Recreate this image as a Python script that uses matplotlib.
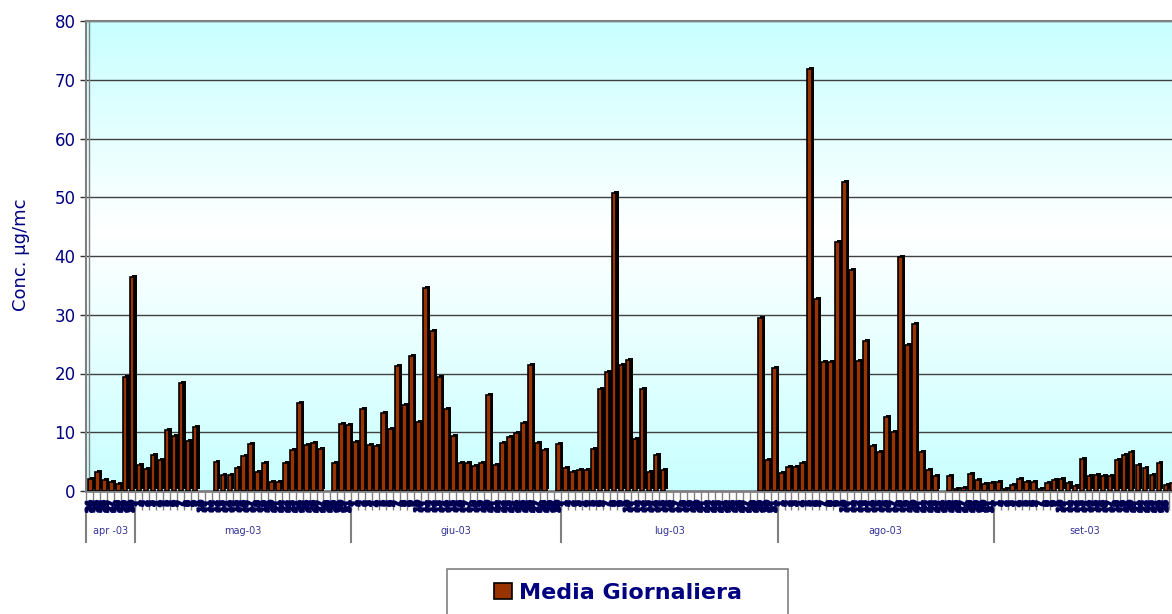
import numpy as np
import pandas as pd
import matplotlib
matplotlib.use('Agg')
import matplotlib.pyplot as plt
import matplotlib.patheffects as pe
from matplotlib.colors import LinearSegmentedColormap
from matplotlib.patches import Rectangle

nan = np.nan

# daily means (ug/mc), 24 apr 2003 -> 26 set 2003, nan = no data
apr_vals = [2.0, 3.2, 1.8, 1.5, 1.2, 19.4, 36.5]
mag_vals = [4.5, 3.7, 6.2, 5.3, 10.4, 9.4, 18.4, 8.5, 10.9, nan,
            nan, 4.9, 2.8, 2.8, 4.0, 6.0, 8.0, 3.2, 4.8, 1.5,
            1.5, 4.8, 6.9, 14.9, 7.9, 8.2, 7.2, nan, 4.8, 11.4,
            11.2]
giu_vals = [8.3, 13.9, 7.9, 7.6, 13.2, 10.5, 21.3, 14.6, 22.9, 11.8,
            34.6, 27.2, 19.4, 13.9, 9.3, 4.8, 4.8, 4.2, 4.8, 16.3,
            4.5, 8.1, 9.2, 9.8, 11.5, 21.4, 8.1, 6.9, nan, 8.0]
lug_vals = [3.9, 3.2, 3.5, 3.5, 7.1, 17.4, 20.3, 50.8, 21.5, 22.3,
            8.8, 17.3, 3.2, 6.1, 3.5, nan, nan, nan, nan, nan,
            nan, nan, nan, nan, nan, nan, nan, nan, 29.5, 5.3,
            21.0]
ago_vals = [3.1, 4.1, 4.1, 4.8, 71.8, 32.6, 21.9, 21.9, 42.4, 52.6,
            37.7, 22.1, 25.5, 7.6, 6.6, 12.6, 10.0, 39.9, 24.9, 28.5,
            6.6, 3.6, 2.6, nan, 2.5, 0.4, 0.5, 2.9, 1.8, 1.2,
            1.3]
set_vals = [1.5, 0.4, 1.1, 2.1, 1.5, 1.5, 0.3, 1.4, 1.9, 2.1,
            1.4, 0.9, 5.4, 2.5, 2.8, 2.5, 2.5, 5.2, 6.2, 6.6,
            4.5, 3.9, 2.8, 4.8, 1.1, 1.3]
month_labels = ['apr -03', 'mag-03', 'giu-03', 'lug-03', 'ago-03', 'set-03']

vals = np.array(apr_vals + mag_vals + giu_vals + lug_vals + ago_vals + set_vals)
days = pd.date_range('2003-04-24', periods=len(vals), freq='D')
x = np.arange(len(vals))
mask = ~np.isnan(vals)

W, H = 1172, 614
px_day = 6.985
navy = '#000080'
grey = '#808080'

fig = plt.figure(figsize=(W / 100, H / 100), dpi=100)
ax = fig.add_axes([86 / W, (H - 491) / H, (W - 86) / W, 470 / H])

# wall gradient cyan -> white -> cyan
cmap = LinearSegmentedColormap.from_list('wall', [(0, '#c8ffff'), (0.55, '#ffffff'), (1, '#c8ffff')])
ax.imshow(np.linspace(0, 1, 256).reshape(-1, 1), extent=(0, 1, 0, 1), transform=ax.transAxes,
          cmap=cmap, aspect='auto', origin='lower', zorder=0)

# 3d look: dark depth block behind the front face
ax.bar(x[mask] + 0.4, vals[mask], width=0.7, bottom=0.34, color='black', zorder=2)
bars = ax.bar(x[mask] + 0.1, vals[mask], width=0.68, color='#993300', edgecolor='black',
              linewidth=1.2, zorder=3, label='Media Giornaliera')

xmax = -0.5 + (W - 86) / px_day
ax.set_xlim(-0.5, xmax)
ax.set_ylim(0, 80)
ax.set_yticks(np.arange(0, 81, 10))
ax.yaxis.grid(True, color='#404040', lw=1)
ax.set_axisbelow(True)
ax.tick_params(axis='y', length=4.5, width=1, color='#333333', pad=3,
               labelsize=12, labelcolor=navy)

ax.set_xticks(x - 0.5)
ax.set_xticklabels([])
ax.tick_params(axis='x', length=14, width=1, color=grey)

for s in ['left', 'top']:
    ax.spines[s].set_color(grey)
    ax.spines[s].set_linewidth(1.5)
ax.spines['bottom'].set_color(grey)
ax.spines['bottom'].set_linewidth(2)
ax.spines['right'].set_visible(False)
ax.axvline(-0.5 + 3 / px_day, color=grey, lw=1, zorder=1)

# day numbers, squeezed together into a dark band like the original
stroke = [pe.withStroke(linewidth=1.6, foreground='#000060')]
for xi, d in zip(x, days):
    if xi + 0.5 > xmax:
        continue
    ax.annotate(str(d.day), xy=(xi, 0), xycoords=('data', 'axes fraction'),
                xytext=(0, -6.8), textcoords='offset points', rotation=90,
                ha='center', va='top', fontsize=6.2, fontweight='bold',
                color='#000040', annotation_clip=False, zorder=4,
                path_effects=stroke)

# month groups
trans = ax.get_xaxis_transform()
months = days.to_period('M')
for lab, m in zip(month_labels, months.unique()):
    idx = x[months == m]
    b = idx[0] - 0.5
    ax.plot([b, b], [-17 / 470, -51 / 470], transform=trans, color=grey, lw=1.5, clip_on=False)
    ax.text((idx[0] + idx[-1]) / 2, -40 / 470, lab, transform=trans, ha='center', va='center',
            fontsize=7, color='#333399')

fig.text(21 / W, 1 - 255 / H, 'Conc. µg/mc', rotation=90, ha='center', va='center',
         fontsize=13, color=navy)

# legend
fig.add_artist(Rectangle((447 / W, -0.2), 341 / W, (614 - 569) / H + 0.2, transform=fig.transFigure,
                         facecolor='white', edgecolor=grey, lw=1.2, zorder=1))
fig.legend(handles=[bars], labels=['Media Giornaliera'], loc='center',
           bbox_to_anchor=(618 / W, 1 - 593 / H), frameon=False,
           prop={'size': 16, 'weight': 'bold'}, labelcolor=navy,
           handlelength=0.8, handleheight=0.75, handletextpad=0.35)

fig.savefig('out.png', dpi=100)
